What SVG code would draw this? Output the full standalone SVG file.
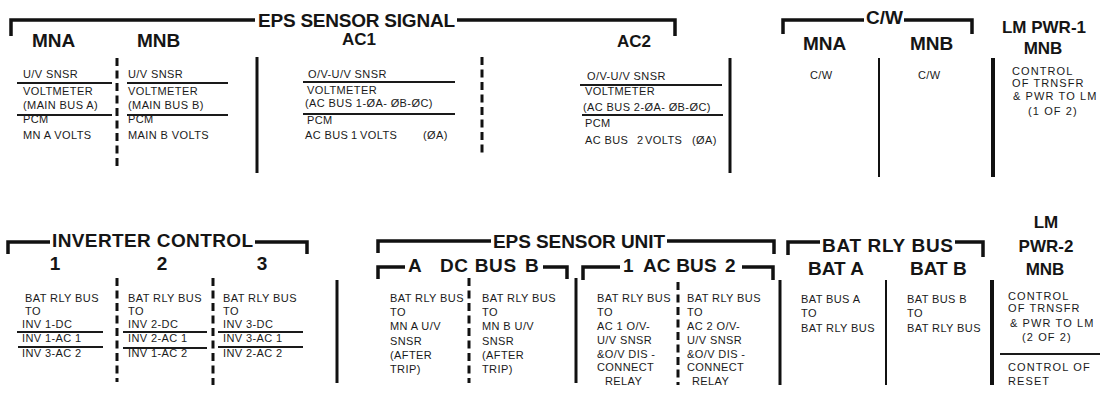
<svg xmlns="http://www.w3.org/2000/svg" width="1102" height="393" viewBox="0 0 1102 393">
<style>
.h{font-family:"Liberation Sans",Arial,sans-serif;font-weight:bold;font-size:19px;fill:#151515}
.hm{font-family:"Liberation Sans",Arial,sans-serif;font-weight:bold;font-size:17px;fill:#151515}
.s{font-family:"Liberation Sans",Arial,sans-serif;font-size:11px;fill:#1a1a1a;letter-spacing:0.4px}
.sw{font-family:"Liberation Sans",Arial,sans-serif;font-size:11px;fill:#1a1a1a;letter-spacing:1.1px}
.br{fill:none;stroke:#111;stroke-width:3.5;stroke-linejoin:miter}
.ul{stroke:#1a1a1a;stroke-width:2}
.v{stroke:#111;stroke-width:3}
.vt{stroke:#111;stroke-width:2}
.vk{stroke:#111;stroke-width:4}
.d{stroke:#111;stroke-width:3;stroke-dasharray:8 4.5}
.c{text-anchor:middle}
</style>
<rect width="1102" height="393" fill="#fff"/>

<!-- TOP SECTION -->
<g id="eps-sensor-signal">
  <path class="br" d="M11,36 V20 H255"/>
  <path class="br" d="M457,20 H675 V36"/>
  <text class="h" x="258" y="27" font-size="18.5" textLength="197">EPS SENSOR SIGNAL</text>
</g>

<g id="sig-mna">
  <text class="h" x="32" y="47">MNA</text>
  <text class="s" x="23" y="78">U/V SNSR</text>
  <line class="ul" x1="17" y1="83" x2="112" y2="83"/>
  <text class="s" x="23" y="95">VOLTMETER</text>
  <text class="s" x="23" y="109">(MAIN BUS A)</text>
  <line class="ul" x1="17" y1="115" x2="112" y2="115"/>
  <text class="s" x="23" y="123">PCM</text>
  <text class="s" x="23" y="139">MN A VOLTS</text>
</g>

<g id="sig-mnb">
  <text class="h" x="137" y="47">MNB</text>
  <text class="s" x="128" y="78">U/V SNSR</text>
  <line class="ul" x1="127" y1="83" x2="228" y2="83"/>
  <text class="s" x="128" y="95">VOLTMETER</text>
  <text class="s" x="128" y="109">(MAIN BUS B)</text>
  <line class="ul" x1="127" y1="115" x2="228" y2="115"/>
  <text class="s" x="128" y="123">PCM</text>
  <text class="s" x="128" y="139">MAIN B VOLTS</text>
</g>

<g id="sig-ac1">
  <text class="hm c" x="359" y="45">AC1</text>
  <text class="s" x="308" y="78">O/V-U/V SNSR</text>
  <line class="ul" x1="303" y1="82" x2="455" y2="82"/>
  <text class="s" x="307" y="94">VOLTMETER</text>
  <text class="s" x="305" y="107">(AC BUS 1-ØA- ØB-ØC)</text>
  <line class="ul" x1="303" y1="114" x2="455" y2="114"/>
  <text class="s" x="307" y="124">PCM</text>
  <text class="s" y="139"><tspan x="305">AC BUS </tspan><tspan x="351">1 </tspan><tspan x="360">VOLTS </tspan><tspan x="423">(ØA)</tspan></text>
</g>

<g id="sig-ac2">
  <text class="hm c" x="634" y="47">AC2</text>
  <text class="s" x="587" y="80">O/V-U/V SNSR</text>
  <line class="ul" x1="580" y1="85" x2="722" y2="85"/>
  <text class="s" x="585" y="95">VOLTMETER</text>
  <text class="s" x="583" y="111">(AC BUS 2-ØA-  ØB-ØC)</text>
  <line class="ul" x1="582" y1="115" x2="723" y2="115"/>
  <text class="s" x="585" y="127">PCM</text>
  <text class="s" y="144"><tspan x="585">AC BUS </tspan><tspan x="637">2 </tspan><tspan x="645">VOLTS </tspan><tspan x="692">(ØA)</tspan></text>
</g>

<g id="cw">
  <path class="br" d="M783,34 V20 H864"/>
  <path class="br" d="M904,20 H972 V34"/>
  <text class="h" x="866" y="24" font-size="18">C/W</text>
  <text class="h" x="803" y="50">MNA</text>
  <text class="h" x="910" y="50">MNB</text>
  <text class="s" x="810" y="79">C/W</text>
  <text class="s" x="918" y="79">C/W</text>
</g>

<g id="lm-pwr-1">
  <text class="hm c" x="1044" y="33" font-size="18">LM PWR-1</text>
  <text class="hm c" x="1043" y="54" font-size="18">MNB</text>
  <text class="sw" x="1012" y="75">CONTROL</text>
  <text class="sw" x="1012" y="87">OF TRNSFR</text>
  <text class="sw" x="1013" y="100" letter-spacing="0.6">&amp; PWR TO LM</text>
  <text class="sw" x="1028" y="115">(1 OF 2)</text>
</g>

<!-- BOTTOM SECTION -->
<g id="inverter-control">
  <path class="br" d="M8,254 V242 H50"/>
  <path class="br" d="M255,242 H307 V254"/>
  <text class="h" x="52" y="247" font-size="19.5" textLength="201">INVERTER CONTROL</text>
</g>

<g id="inv-1">
  <text class="h c" x="55" y="270" font-size="16">1</text>
  <text class="s" x="25" y="302">BAT RLY BUS</text>
  <text class="s" x="25" y="315">TO</text>
  <text class="s" x="22" y="328">INV 1-DC</text>
  <line class="ul" x1="17" y1="332" x2="103" y2="332"/>
  <text class="s" x="22" y="342">INV 1-AC 1</text>
  <line class="ul" x1="18" y1="347" x2="103" y2="347"/>
  <text class="s" x="22" y="357">INV 3-AC 2</text>
</g>

<g id="inv-2">
  <text class="h c" x="162" y="270" font-size="16">2</text>
  <text class="s" x="128" y="302">BAT RLY BUS</text>
  <text class="s" x="128" y="315">TO</text>
  <text class="s" x="128" y="328">INV 2-DC</text>
  <line class="ul" x1="123" y1="332" x2="207" y2="332"/>
  <text class="s" x="128" y="342">INV 2-AC 1</text>
  <line class="ul" x1="123" y1="348" x2="207" y2="348"/>
  <text class="s" x="128" y="357">INV 1-AC 2</text>
</g>

<g id="inv-3">
  <text class="h c" x="262" y="270" font-size="16">3</text>
  <text class="s" x="223" y="302">BAT RLY BUS</text>
  <text class="s" x="223" y="315">TO</text>
  <text class="s" x="223" y="328">INV 3-DC</text>
  <line class="ul" x1="218" y1="332" x2="303" y2="332"/>
  <text class="s" x="223" y="342">INV 3-AC 1</text>
  <line class="ul" x1="218" y1="347" x2="303" y2="347"/>
  <text class="s" x="223" y="357">INV 2-AC 2</text>
</g>

<g id="eps-sensor-unit">
  <path class="br" d="M378,253 V241 H491"/>
  <path class="br" d="M667,241 H774 V254"/>
  <text class="h" x="493" y="248" textLength="172">EPS SENSOR UNIT</text>
</g>

<g id="dc-bus">
  <path class="br" d="M378,279 V267 H405"/>
  <path class="br" d="M543,267 H567 V279"/>
  <text class="h" y="272"><tspan x="408">A </tspan><tspan x="440" textLength="82">DC BUS </tspan><tspan x="525">B</tspan></text>
</g>

<g id="dc-bus-a">
  <text class="s" x="390" y="302">BAT RLY BUS</text>
  <text class="s" x="390" y="316">TO</text>
  <text class="s" x="390" y="330">MN A U/V</text>
  <text class="s" x="390" y="345">SNSR</text>
  <text class="s" x="390" y="359">(AFTER</text>
  <text class="s" x="390" y="373">TRIP)</text>
</g>

<g id="dc-bus-b">
  <text class="s" x="482" y="302">BAT RLY BUS</text>
  <text class="s" x="482" y="316">TO</text>
  <text class="s" x="482" y="330">MN B U/V</text>
  <text class="s" x="482" y="345">SNSR</text>
  <text class="s" x="482" y="359">(AFTER</text>
  <text class="s" x="482" y="373">TRIP)</text>
</g>

<g id="ac-bus">
  <path class="br" d="M583,280 V267 H620"/>
  <path class="br" d="M742,267 H773 V280"/>
  <text class="h" y="272"><tspan x="623">1 </tspan><tspan x="643" textLength="79">AC BUS </tspan><tspan x="725">2</tspan></text>
</g>

<g id="ac-bus-1">
  <text class="s" x="597" y="302">BAT RLY BUS</text>
  <text class="s" x="597" y="316">TO</text>
  <text class="s" x="597" y="330">AC 1 O/V-</text>
  <text class="s" x="597" y="344">U/V SNSR</text>
  <text class="s" x="597" y="358">&amp;O/V DIS -</text>
  <text class="s" x="597" y="371">CONNECT</text>
  <text class="s" x="605" y="385">RELAY</text>
</g>

<g id="ac-bus-2">
  <text class="s" x="687" y="302">BAT RLY BUS</text>
  <text class="s" x="687" y="316">TO</text>
  <text class="s" x="687" y="330">AC 2 O/V-</text>
  <text class="s" x="687" y="344">U/V SNSR</text>
  <text class="s" x="687" y="358">&amp;O/V DIS -</text>
  <text class="s" x="687" y="371">CONNECT</text>
  <text class="s" x="692" y="385">RELAY</text>
</g>

<g id="bat-rly-bus">
  <path class="br" d="M788,255 V242 H820"/>
  <path class="br" d="M955,242 H983 V257"/>
  <text class="h" x="822" y="252" font-size="19.5" textLength="131">BAT RLY BUS</text>
  <text class="h" x="808" y="275">BAT A</text>
  <text class="h" x="910" y="275">BAT B</text>
  <text class="s" x="801" y="303">BAT BUS A</text>
  <text class="s" x="801" y="317">TO</text>
  <text class="s" x="801" y="332">BAT RLY BUS</text>
  <text class="s" x="907" y="303">BAT BUS B</text>
  <text class="s" x="907" y="317">TO</text>
  <text class="s" x="907" y="332">BAT RLY BUS</text>
</g>

<g id="lm-pwr-2">
  <text class="hm c" x="1046" y="228" font-size="18">LM</text>
  <text class="hm c" x="1046" y="252" font-size="18">PWR-2</text>
  <text class="hm c" x="1045" y="275" font-size="18">MNB</text>
  <text class="sw" x="1008" y="300">CONTROL</text>
  <text class="sw" x="1008" y="312">OF TRNSFR</text>
  <text class="sw" x="1010" y="327" letter-spacing="0.6">&amp; PWR TO LM</text>
  <text class="sw" x="1022" y="341">(2 OF 2)</text>
  <line class="ul" x1="1000" y1="354" x2="1100" y2="354"/>
  <text class="sw" x="1008" y="371">CONTROL  OF</text>
  <text class="sw" x="1008" y="385">RESET</text>
</g>

<!-- dividers -->
<g id="dividers">
  <line class="d" x1="117" y1="58" x2="117" y2="168"/>
  <line class="v" x1="257" y1="57" x2="257" y2="173"/>
  <line class="d" x1="482" y1="57" x2="482" y2="157"/>
  <line class="v" x1="730" y1="58" x2="730" y2="173"/>
  <line class="vt" x1="879" y1="58" x2="879" y2="177"/>
  <line class="vk" x1="993" y1="58" x2="993" y2="177"/>

  <line class="d" x1="117" y1="278" x2="117" y2="382"/>
  <line class="d" x1="213" y1="278" x2="213" y2="385"/>
  <line class="v" x1="337" y1="280" x2="337" y2="383"/>
  <line class="d" x1="469" y1="278" x2="469" y2="383"/>
  <line class="v" x1="576" y1="278" x2="576" y2="383"/>
  <line class="d" x1="678" y1="282" x2="678" y2="385"/>
  <line class="v" x1="780" y1="280" x2="780" y2="385"/>
  <line class="vt" x1="886" y1="280" x2="886" y2="385"/>
  <line class="vk" x1="992" y1="280" x2="992" y2="385"/>
</g>
</svg>
